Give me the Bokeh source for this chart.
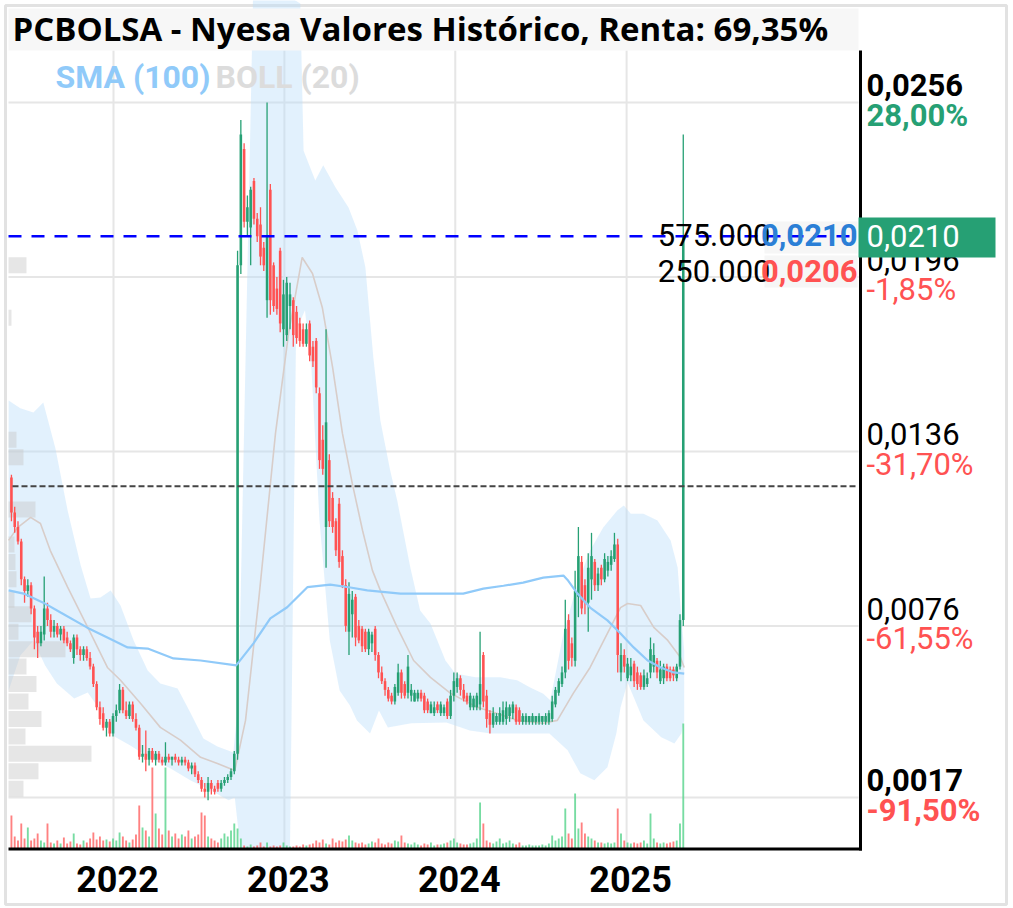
import numpy as np
import pandas as pd
from bokeh.plotting import figure
from bokeh.models import Range1d, BoxAnnotation, Label, ColumnDataSource
from bokeh.embed import file_html
from bokeh.resources import INLINE
from bokeh.core.properties import value

# ---------------- data ----------------
candle_start = "2021-05-28"   # weekly candles
opens = [0.0127,0.0115,0.0110,0.0105,0.0092,0.0088,0.0090,0.0082,0.0074,0.0070,
         0.0073,0.0082,0.0078,0.0074,0.0076,0.0073,0.0075,0.0072,0.0070,0.0065,
         0.0072,0.0068,0.0066,0.0068,0.0065,0.0062,0.0056,0.0048,0.0046,0.0041,
         0.0043,0.0039,0.0045,0.0047,0.0054,0.0047,0.0045,0.0049,0.0044,0.0041,
         0.0031,0.0032,0.0030,0.0033,0.0030,0.0032,0.0030,0.0029,0.0031,0.0030,
         0.0031,0.0030,0.0029,0.0030,0.0029,0.0027,0.0028,0.0025,0.0023,0.0020,
         0.0019,0.0022,0.0020,0.0022,0.0020,0.0022,0.0023,0.0024,0.0026,0.0032,
         0.0200,0.0240,0.0215,0.0213,0.0229,0.0216,0.0214,0.0206,0.0188,0.0226,
         0.0200,0.0192,0.0205,0.0178,0.0176,0.0186,0.0188,0.0184,0.0180,0.0178,
         0.0173,0.0180,0.0172,0.0174,0.0156,0.0140,0.0110,0.0133,0.0120,0.0112,
         0.0118,0.0100,0.0090,0.0074,0.0080,0.0086,0.0076,0.0075,0.0074,0.0068,
         0.0070,0.0075,0.0066,0.0060,0.0057,0.0054,0.0052,0.0050,0.0053,0.0060,
         0.0056,0.0053,0.0052,0.0050,0.0051,0.0053,0.0052,0.0050,0.0046,0.0046,
         0.0049,0.0046,0.0046,0.0050,0.0045,0.0052,0.0055,0.0058,0.0054,0.0052,
         0.0048,0.0048,0.0048,0.0049,0.0066,0.0052,0.0046,0.0042,0.0043,0.0043,
         0.0043,0.0044,0.0045,0.0046,0.0048,0.0047,0.0043,0.0043,0.0043,0.0043,
         0.0043,0.0043,0.0043,0.0043,0.0043,0.0044,0.0049,0.0053,0.0056,0.0060,
         0.0078,0.0070,0.0064,0.0086,0.0098,0.0090,0.0084,0.0092,0.0098,0.0090,
         0.0096,0.0092,0.0095,0.0097,0.0099,0.0104,0.0060,0.0066,0.0058,0.0059,
         0.0063,0.0060,0.0059,0.0055,0.0056,0.0060,0.0062,0.0064,0.0057,0.0058,
         0.0062,0.0061,0.0061,0.0058,0.0062,0.0078]
highs = [0.0128,0.0117,0.0112,0.0106,0.0093,0.0092,0.0091,0.0083,0.0076,0.0076,
         0.0093,0.0084,0.0080,0.0078,0.0077,0.0076,0.0076,0.0074,0.0071,0.0073,
         0.0073,0.0069,0.0069,0.0069,0.0067,0.0063,0.0057,0.0050,0.0048,0.0044,
         0.0044,0.0046,0.0049,0.0056,0.0055,0.0050,0.0050,0.0050,0.0046,0.0042,
         0.0035,0.0040,0.0034,0.0034,0.0033,0.0033,0.0031,0.0036,0.0032,0.0031,
         0.0032,0.0031,0.0031,0.0031,0.0030,0.0029,0.0029,0.0026,0.0024,0.0022,
         0.0024,0.0023,0.0021,0.0023,0.0023,0.0024,0.0025,0.0027,0.0033,0.0205,
         0.0250,0.0242,0.0224,0.0227,0.0230,0.0218,0.0220,0.0208,0.0256,0.0228,
         0.0201,0.0196,0.0206,0.0195,0.0196,0.0194,0.0189,0.0186,0.0182,0.0180,
         0.0180,0.0181,0.0174,0.0175,0.0158,0.0145,0.0178,0.0135,0.0122,0.0113,
         0.0120,0.0102,0.0092,0.0091,0.0088,0.0087,0.0078,0.0076,0.0075,0.0075,
         0.0074,0.0076,0.0067,0.0062,0.0058,0.0055,0.0053,0.0056,0.0063,0.0061,
         0.0057,0.0066,0.0056,0.0054,0.0054,0.0054,0.0053,0.0051,0.0050,0.0050,
         0.0050,0.0050,0.0049,0.0051,0.0054,0.0060,0.0060,0.0059,0.0056,0.0053,
         0.0053,0.0052,0.0053,0.0074,0.0067,0.0054,0.0047,0.0048,0.0046,0.0048,
         0.0050,0.0050,0.0049,0.0050,0.0049,0.0048,0.0046,0.0046,0.0045,0.0046,
         0.0045,0.0046,0.0045,0.0046,0.0047,0.0052,0.0055,0.0058,0.0062,0.0085,
         0.0080,0.0072,0.0095,0.0110,0.0100,0.0092,0.0101,0.0108,0.0099,0.0096,
         0.0097,0.0101,0.0100,0.0102,0.0108,0.0106,0.0070,0.0068,0.0065,0.0065,
         0.0064,0.0062,0.0060,0.0061,0.0060,0.0072,0.0070,0.0065,0.0064,0.0063,
         0.0063,0.0062,0.0062,0.0063,0.0080,0.0245]
lows =  [0.0112,0.0108,0.0104,0.0090,0.0084,0.0086,0.0080,0.0068,0.0065,0.0069,
         0.0071,0.0076,0.0072,0.0072,0.0072,0.0071,0.0070,0.0069,0.0067,0.0063,
         0.0066,0.0064,0.0064,0.0064,0.0061,0.0055,0.0047,0.0042,0.0040,0.0038,
         0.0038,0.0038,0.0043,0.0046,0.0046,0.0044,0.0044,0.0043,0.0040,0.0030,
         0.0029,0.0026,0.0028,0.0029,0.0028,0.0029,0.0028,0.0028,0.0029,0.0028,
         0.0029,0.0028,0.0028,0.0028,0.0026,0.0025,0.0024,0.0022,0.0019,0.0017,
         0.0016,0.0018,0.0018,0.0019,0.0019,0.0021,0.0022,0.0023,0.0025,0.0030,
         0.0197,0.0213,0.0210,0.0200,0.0214,0.0208,0.0200,0.0198,0.0182,0.0183,
         0.0184,0.0183,0.0177,0.0172,0.0174,0.0178,0.0172,0.0173,0.0172,0.0172,
         0.0172,0.0167,0.0165,0.0156,0.0130,0.0128,0.0096,0.0110,0.0108,0.0100,
         0.0096,0.0089,0.0074,0.0066,0.0072,0.0069,0.0070,0.0067,0.0067,0.0066,
         0.0067,0.0064,0.0058,0.0056,0.0052,0.0050,0.0049,0.0049,0.0052,0.0051,
         0.0051,0.0051,0.0050,0.0050,0.0050,0.0050,0.0046,0.0046,0.0046,0.0045,
         0.0046,0.0045,0.0045,0.0044,0.0044,0.0050,0.0053,0.0052,0.0050,0.0049,
         0.0047,0.0047,0.0047,0.0047,0.0048,0.0041,0.0039,0.0041,0.0042,0.0042,
         0.0042,0.0042,0.0043,0.0044,0.0042,0.0042,0.0042,0.0042,0.0042,0.0042,
         0.0042,0.0042,0.0042,0.0042,0.0042,0.0043,0.0048,0.0052,0.0055,0.0058,
         0.0061,0.0062,0.0062,0.0079,0.0080,0.0080,0.0074,0.0085,0.0088,0.0088,
         0.0090,0.0091,0.0093,0.0095,0.0098,0.0060,0.0057,0.0060,0.0057,0.0057,
         0.0055,0.0054,0.0054,0.0054,0.0055,0.0058,0.0060,0.0058,0.0056,0.0056,
         0.0057,0.0057,0.0057,0.0057,0.0061,0.0076]
closes = [0.0115,0.0110,0.0105,0.0092,0.0088,0.0090,0.0082,0.0072,0.0070,0.0074,
          0.0082,0.0078,0.0074,0.0076,0.0073,0.0075,0.0071,0.0070,0.0068,0.0072,
          0.0068,0.0066,0.0068,0.0065,0.0062,0.0056,0.0048,0.0044,0.0041,0.0043,
          0.0039,0.0045,0.0047,0.0054,0.0047,0.0045,0.0049,0.0044,0.0041,0.0031,
          0.0032,0.0030,0.0033,0.0030,0.0032,0.0030,0.0029,0.0031,0.0030,0.0031,
          0.0030,0.0029,0.0030,0.0029,0.0027,0.0028,0.0025,0.0023,0.0020,0.0019,
          0.0022,0.0020,0.0019,0.0020,0.0022,0.0023,0.0024,0.0026,0.0032,0.0200,
          0.0245,0.0215,0.0220,0.0226,0.0216,0.0210,0.0203,0.0200,0.0210,0.0188,
          0.0186,0.0185,0.0180,0.0190,0.0194,0.0190,0.0176,0.0175,0.0174,0.0173,
          0.0178,0.0169,0.0167,0.0158,0.0133,0.0130,0.0146,0.0112,0.0110,0.0102,
          0.0098,0.0090,0.0076,0.0087,0.0085,0.0072,0.0071,0.0069,0.0068,0.0074,
          0.0073,0.0066,0.0060,0.0057,0.0054,0.0051,0.0050,0.0055,0.0060,0.0053,
          0.0052,0.0062,0.0054,0.0053,0.0053,0.0051,0.0047,0.0047,0.0049,0.0048,
          0.0047,0.0049,0.0048,0.0045,0.0052,0.0057,0.0058,0.0054,0.0051,0.0050,
          0.0052,0.0051,0.0052,0.0056,0.0050,0.0044,0.0042,0.0046,0.0045,0.0046,
          0.0047,0.0048,0.0048,0.0049,0.0043,0.0043,0.0045,0.0045,0.0045,0.0045,
          0.0045,0.0045,0.0045,0.0045,0.0046,0.0050,0.0054,0.0057,0.0060,0.0075,
          0.0064,0.0065,0.0088,0.0100,0.0082,0.0084,0.0096,0.0100,0.0090,0.0094,
          0.0092,0.0099,0.0098,0.0100,0.0104,0.0066,0.0066,0.0062,0.0063,0.0062,
          0.0057,0.0056,0.0055,0.0059,0.0058,0.0068,0.0066,0.0060,0.0061,0.0062,
          0.0058,0.0058,0.0059,0.0062,0.0078,0.0210]
volumes = [33,12,8,25,10,21,8,10,15,8, 6,25,6,5,8,5,11,5,7,15,
           5,4,8,6,10,16,9,12,8,9, 7,10,8,16,12,8,6,9,14,43,
           21,18,12,81,35,20,14,81,18,12, 15,10,14,12,18,10,12,14,36,33,
           12,10,8,6,10,15,12,18,25,20, 10,3,2,4,2,3,6,2,6,2,
           3,2,3,6,3,2,2,3,2,4, 3,4,5,8,6,9,5,4,10,6,
           8,7,9,13,8,6,5,6,4,5, 7,6,10,5,4,6,5,8,7,13,
           6,5,4,6,4,3,5,4,6,3, 4,4,5,6,8,10,6,5,4,4,
           5,6,10,46,25,8,6,5,7,10, 5,6,8,5,4,6,3,3,4,3,
           3,3,4,3,5,13,8,10,12,40, 15,10,55,20,26,15,12,10,8,6,
           6,5,6,5,6,40,15,8,6,5, 6,5,6,8,5,35,10,6,5,6,
           5,6,7,8,25,125]

sma_dates = ["2021-05-22","2021-06-23","2021-08-04","2021-09-10","2021-11-06","2022-01-01",
             "2022-01-31","2022-03-15","2022-05-09","2022-07-06","2022-09-20","2022-10-27",
             "2022-12-02","2023-01-07","2023-02-19","2023-04-09","2023-05-22","2023-06-27",
             "2023-09-06","2024-01-18","2024-03-01","2024-04-13","2024-05-25","2024-07-07",
             "2024-08-19","2024-08-29","2024-09-18","2024-10-15","2024-11-21","2024-12-19",
             "2025-01-16","2025-02-15","2025-03-15","2025-04-11","2025-05-04"]
sma_vals = [0.00882,0.00871,0.00840,0.00806,0.00754,0.00710,0.00686,0.00682,0.00648,0.00641,
            0.00624,0.00700,0.00786,0.00824,0.00893,0.00902,0.00892,0.00882,0.00871,0.00871,
            0.00888,0.00898,0.00909,0.00926,0.00933,0.00916,0.00871,0.00823,0.00779,0.00734,
            0.00686,0.00641,0.00617,0.00600,0.00596]

boll_up_dates = ["2021-05-22","2021-06-16","2021-07-14","2021-08-04","2021-08-30","2021-09-25",
                 "2021-10-23","2021-11-13","2021-12-04","2021-12-26","2022-01-16","2022-02-13",
                 "2022-03-15","2022-04-11","2022-05-18","2022-06-14","2022-07-12","2022-08-11",
                 "2022-09-14","2022-09-25","2022-10-27","2023-02-04","2023-02-11","2023-03-08",
                 "2023-03-25","2023-04-20","2023-05-18","2023-06-06","2023-06-23","2023-07-10",
                 "2023-07-25","2023-08-15","2023-08-30","2023-09-27","2023-10-18","2023-11-09",
                 "2023-12-11","2024-01-01","2024-02-13","2024-04-06","2024-05-12","2024-06-09",
                 "2024-07-07","2024-07-22","2024-08-19","2024-09-18","2024-10-15","2024-11-12",
                 "2024-12-12","2024-12-26","2025-01-10","2025-02-06","2025-03-08","2025-04-05",
                 "2025-04-20","2025-04-28","2025-05-04"]
boll_up_vals = [0.01535,0.01508,0.01494,0.01528,0.01370,0.01157,0.00968,0.00854,0.00858,0.00882,
                0.00830,0.00710,0.00607,0.00562,0.00545,0.00462,0.00373,0.00345,0.00325,0.00504,
                0.03000,0.02900,0.02394,0.02292,0.02344,0.02268,0.02199,0.02120,0.01993,0.01683,
                0.01466,0.01294,0.01191,0.00961,0.00813,0.00768,0.00641,0.00596,0.00583,0.00583,
                0.00573,0.00548,0.00527,0.00504,0.00734,0.00906,0.01019,0.01098,0.01157,0.01174,
                0.01146,0.01146,0.01122,0.01054,0.00961,0.00789,0.00675]
boll_lo_dates = ["2021-05-22","2021-06-16","2021-07-14","2021-08-08","2021-09-02","2021-10-09",
                 "2021-11-07","2021-12-04","2021-12-30","2022-02-06","2022-03-21","2022-05-03",
                 "2022-06-14","2022-07-27","2022-09-04","2022-09-17","2022-09-29","2023-01-13",
                 "2023-01-26","2023-02-14","2023-02-28","2023-03-17","2023-04-08","2023-04-29",
                 "2023-05-21","2023-06-05","2023-07-03","2023-07-22","2023-08-10","2023-09-29",
                 "2023-12-13","2024-02-01","2024-03-17","2024-07-20","2024-08-28","2024-09-24",
                 "2024-10-24","2024-11-21","2024-12-10","2024-12-19","2025-01-03","2025-02-06",
                 "2025-03-16","2025-04-13","2025-04-28","2025-05-04"]
boll_lo_vals = [0.00538,0.00658,0.00710,0.00624,0.00562,0.00510,0.00531,0.00469,0.00383,0.00349,
                0.00304,0.00270,0.00229,0.00195,0.00160,0.00170,-0.00005,-0.00005,0.01776,0.01845,
                0.01638,0.01122,0.00710,0.00538,0.00486,0.00435,0.00390,0.00469,0.00411,0.00425,
                0.00428,0.00400,0.00390,0.00390,0.00332,0.00253,0.00229,0.00274,0.00390,0.00479,
                0.00565,0.00435,0.00377,0.00356,0.00390,0.00435]
boll_mid_dates = ["2021-05-22","2021-06-10","2021-07-08","2021-07-29","2021-08-19","2021-09-25",
                  "2021-11-07","2021-12-19","2022-01-16","2022-02-28","2022-04-11","2022-05-24",
                  "2022-07-06","2022-08-11","2022-09-17","2022-10-10","2022-11-07","2022-12-13",
                  "2023-01-10","2023-02-08","2023-03-02","2023-03-23","2023-04-14","2023-05-05",
                  "2023-05-26","2023-06-17","2023-07-08","2023-07-25","2023-08-30","2023-10-04",
                  "2023-11-09","2023-12-22","2024-02-17","2024-03-31","2024-05-12","2024-07-07",
                  "2024-08-06","2024-09-09","2024-10-15","2024-11-21","2024-12-19","2025-01-03",
                  "2025-01-31","2025-02-28","2025-03-30","2025-04-26","2025-05-04"]
boll_mid_vals = [0.01054,0.01098,0.01133,0.01112,0.01019,0.00893,0.00755,0.00617,0.00573,0.00493,
                 0.00411,0.00367,0.00308,0.00287,0.00263,0.00435,0.00847,0.01422,0.01766,0.02027,
                 0.01972,0.01855,0.01649,0.01422,0.01250,0.01088,0.00951,0.00882,0.00755,0.00641,
                 0.00583,0.00528,0.00480,0.00459,0.00435,0.00425,0.00435,0.00528,0.00617,0.00734,
                 0.00823,0.00837,0.00830,0.00755,0.00710,0.00651,0.00617]

vp_prices = [0.0200,0.0182,0.0140,0.0134,0.0116,0.0104,0.0098,0.0092,0.0085,0.0080,
             0.0074,0.0068,0.0062,0.0056,0.0050,0.0044,0.0038,0.0032,0.0026,0.0020]
vp_widths = [18,3,8,15,27,6,7,8,6,23,10,57,18,28,20,33,17,83,30,15]

axis_ticks = [0.0256, 0.0196, 0.0136, 0.0076, 0.0017]
axis_pcts = ["28,00%", "-1,85%", "-31,70%", "-61,55%", "-91,50%"]
year_ticks = ["2022-01-01", "2023-01-01", "2024-01-01", "2025-01-01"]
year_labels = ["2022", "2023", "2024", "2025"]
last_price = 0.0210
buy_price = 0.0124
ask_qty, ask_px = "575.000", "0,0210"
bid_qty, bid_px = "250.000", "0,0206"
title_text = "PCBOLSA - Nyesa Valores Histórico, Renta: 69,35%"

# ---------------- layout helpers (frame = whole canvas, page pixels) ----------------
CW, CH = 1013, 908
PX_DAY = 171 / 365.25
PX_UNIT = 29080.0
MS_DAY = 86400000.0
t2022 = pd.Timestamp("2022-01-01").value / 1e6
x_start = t2022 - 113 / PX_DAY * MS_DAY
x_end = x_start + CW / PX_DAY * MS_DAY
y_max = 846.4 / PX_UNIT
y_min = y_max - CH / PX_UNIT

def X(page_x):
    return x_start + page_x / PX_DAY * MS_DAY

def Y(page_y):
    return y_max - page_y / PX_UNIT

def YB(baseline_px, font_px):
    # data y for a text whose visible baseline should sit at baseline_px
    return Y(baseline_px - 0.36 * font_px)

GREEN = "#26a074"
RED = "#ff5252"
F = value("Roboto")

p = figure(width=CW, height=CH, x_axis_type="datetime",
           x_range=Range1d(x_start, x_end), y_range=Range1d(y_min, y_max),
           output_backend="svg", toolbar_location=None,
           min_border_left=0, min_border_right=0, min_border_top=0, min_border_bottom=0,
           x_axis_location=None, y_axis_location=None)
p.extra_y_ranges = {"vol": Range1d(-(CH - 848), 848)}
p.extra_x_ranges = {"vp": Range1d(-8, CW - 8)}
p.grid.visible = False
p.outline_line_color = None
p.background_fill_color = "white"
p.border_fill_color = "white"

year_ms = [pd.Timestamp(d).value / 1e6 for d in year_ticks]

# outer light border
p.quad(left=[X(5)], right=[X(1006)], top=[Y(5)], bottom=[Y(904)], fill_color=None,
       line_color="#e2e2e2", line_width=3)

# grid lines
p.segment(x0=year_ms, y0=Y(50), x1=year_ms, y1=Y(848), line_color="#e6e6e6", line_width=2)
p.segment(x0=X(8), y0=axis_ticks, x1=X(858), y1=axis_ticks, line_color="#e6e6e6", line_width=2)

# bollinger band fill
up_x = list(pd.to_datetime(boll_up_dates).astype("int64") / 1e6)
lo_x = list(pd.to_datetime(boll_lo_dates).astype("int64") / 1e6)
p.patch(x=up_x + lo_x[::-1], y=boll_up_vals + boll_lo_vals[::-1],
        fill_color="#bbdefb", fill_alpha=0.42, line_color=None)

# volume profile
p.hbar(y=vp_prices, left=0, right=vp_widths, height=0.00055, x_range_name="vp",
       fill_color="#c8c8c8", fill_alpha=0.45, line_color=None)

p.line(x=pd.to_datetime(boll_mid_dates), y=boll_mid_vals, line_color="#d8cdc9", line_width=1.6)

# candles & volume
dates = pd.date_range(candle_start, periods=len(closes), freq="7D")
o = np.array(opens); c = np.array(closes)
up = c >= o
src = ColumnDataSource(dict(
    x=dates, o=o, h=np.array(highs), l=np.array(lows), c=c,
    top=np.maximum(o, c), bot=np.minimum(o, c), vol=np.array(volumes, dtype=float),
    col=[GREEN if u else RED for u in up],
    vcol=["#5fd692" if u else "#ff6b6b" for u in up]))
p.vbar(x="x", top="vol", bottom=0, width=4 * MS_DAY, source=src, y_range_name="vol",
       fill_color="vcol", line_color=None, fill_alpha=0.85)
p.segment(x0="x", y0="l", x1="x", y1="h", source=src, line_color="col", line_width=1.3)
p.vbar(x="x", top="top", bottom="bot", width=5.5 * MS_DAY, source=src,
       fill_color="col", line_color=None)

p.line(x=pd.to_datetime(sma_dates), y=sma_vals, line_color="#90caf9", line_width=2.2)

# faint backgrounds behind the order-book prices
p.quad(left=[X(764), X(764)], right=[X(857), X(857)], top=[Y(221), Y(255)],
       bottom=[Y(253), Y(287)], fill_color="#f6f6f6", line_color=None)

# reference lines
p.segment(x0=[X(12)], y0=[buy_price], x1=[X(858)], y1=[buy_price],
          line_color="#444444", line_width=2, line_dash="6 3")
p.segment(x0=[X(8)], y0=[last_price], x1=[X(858)], y1=[last_price],
          line_color="#0000ff", line_width=2.5, line_dash="13 10")

# axis lines
p.segment(x0=[X(860)], y0=[Y(50)], x1=[X(860)], y1=[Y(850)], line_color="black", line_width=3)
p.segment(x0=[X(8)], y0=[Y(848.5)], x1=[X(861.5)], y1=[Y(848.5)], line_color="black", line_width=3)

# x (year) labels
p.text(x=year_ms, y=YB(891, 36), text=year_labels, text_font=F, text_font_size="36px",
       text_font_style="bold", text_color="black", text_align="center",
       text_baseline="alphabetic", x_offset=4)

# right price labels
for i, (v, pct) in enumerate(zip(axis_ticks, axis_pcts)):
    bold = "bold" if i in (0, len(axis_ticks) - 1) else "normal"
    gy = 846.4 - v * PX_UNIT
    p.text(x=[X(866)], y=[YB(gy - 6, 31)], text=[f"{v:.4f}".replace(".", ",")],
           text_font=F, text_font_size="31px", text_font_style=bold,
           text_color="black", text_baseline="alphabetic", text_align="left")
    p.text(x=[X(866)], y=[YB(gy + 24, 31)], text=[pct],
           text_font=F, text_font_size="31px", text_font_style=bold,
           text_color=GREEN if pct[0] != "-" else RED, text_baseline="alphabetic", text_align="left")

p.quad(left=[X(858)], right=[X(995)], top=[Y(217)], bottom=[Y(257)], fill_color=GREEN, line_color=None)
p.text(x=[X(866)], y=[YB(247, 31)], text=[f"{last_price:.4f}".replace(".", ",")], text_font=F,
       text_font_size="31px", text_color="white", text_baseline="alphabetic")

p.text(x=[X(770)], y=[YB(246, 31)], text=[ask_qty], text_font=F, text_font_size="31px",
       text_color="black", text_align="right", text_baseline="alphabetic")
p.text(x=[X(857)], y=[YB(246, 31)], text=[ask_px], text_font=F, text_font_size="31px",
       text_font_style="bold", text_color="#2b7fd6", text_align="right", text_baseline="alphabetic")
p.text(x=[X(770)], y=[YB(282, 31)], text=[bid_qty], text_font=F, text_font_size="31px",
       text_color="black", text_align="right", text_baseline="alphabetic")
p.text(x=[X(857)], y=[YB(282, 31)], text=[bid_px], text_font=F, text_font_size="31px",
       text_font_style="bold", text_color=RED, text_align="right", text_baseline="alphabetic")

# title band & legend
p.add_layout(BoxAnnotation(left=X(8), right=X(858), top=Y(8), bottom=Y(50),
                           fill_color="#f7f7f7", fill_alpha=1.0, line_color=None))
p.add_layout(Label(x=X(12), y=YB(40, 33), text=title_text, text_font="Open Sans",
                   text_font_style="bold", text_font_size="33px", text_color="black",
                   text_baseline="alphabetic"))
p.add_layout(Label(x=X(55), y=YB(88, 32), text="SMA (100)", text_font="Roboto",
                   text_font_style="bold", text_font_size="32px", text_color="#90caf9",
                   text_baseline="alphabetic"))
p.add_layout(Label(x=X(215), y=YB(88, 32), text="BOLL (20)", text_font="Roboto",
                   text_font_style="bold", text_font_size="32px", text_color="#dcdcdc",
                   text_baseline="alphabetic"))

open("out.html", "w").write(file_html(p, INLINE))
